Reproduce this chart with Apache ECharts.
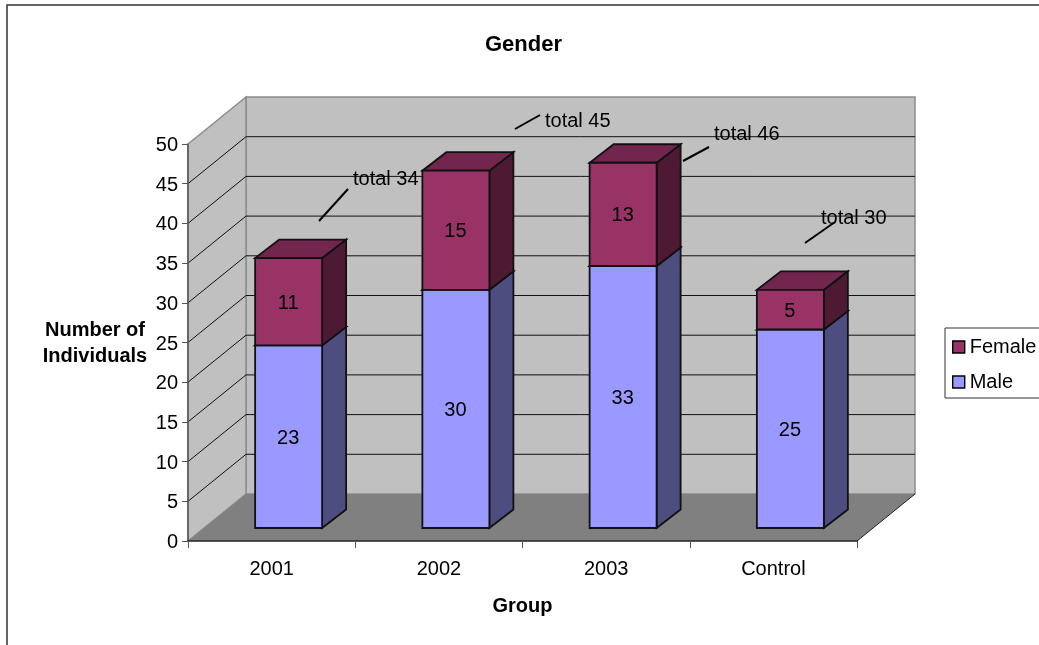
<!DOCTYPE html>
<html>
<head>
<meta charset="utf-8">
<style>html,body{margin:0;padding:0;background:#fff;overflow:hidden}#c{width:1039px;height:645px}</style>
<script src="https://cdn.jsdelivr.net/npm/echarts@6/dist/echarts.min.js"></script>
</head>
<body>
<div id="c"></div>
<script>
const categories = ['2001', '2002', '2003', 'Control'];
const maleValues = [23, 30, 33, 25];
const femaleValues = [11, 15, 13, 5];
const totalValues = [34, 45, 46, 30];
const yTicks = [5, 10, 15, 20, 25, 30, 35, 40, 45];

const FONT = '"Liberation Sans", Arial, sans-serif';
const FS = 20;
const WALL = [58, -47];
const BAR_SHIFT = [17, -13];
const BAR_W = 67;
const BAR_D = [24, -18.5];
const notes = [
  { line: [319, 221, 348, 189], text: [353, 179] },
  { line: [515, 129, 540, 115], text: [545, 121] },
  { line: [683, 161, 709, 147], text: [714, 134] },
  { line: [805, 243, 835, 222], text: [821, 218] }
];

function poly(points, fill, stroke, w) {
  return { type: 'polygon', shape: { points }, style: { fill, stroke: stroke || 'none', lineWidth: w || 0 } };
}

function renderWalls(params, api) {
  const cs = params.coordSys;
  const L = cs.x, R = cs.x + cs.width;
  const y0 = api.coord([0, 0])[1], yT = api.coord([0, 50])[1];
  const [dx, dy] = WALL;
  const children = [
    poly([[L + dx, yT + dy], [R + dx, yT + dy], [R + dx, y0 + dy], [L + dx, y0 + dy]], '#C0C0C0', '#8c8c8c', 1.5),
    poly([[L, yT], [L + dx, yT + dy], [L + dx, y0 + dy], [L, y0]], '#C0C0C0', '#8c8c8c', 1.5),
    poly([[L, y0], [L + dx, y0 + dy], [R + dx, y0 + dy], [R, y0]], '#808080', 'none', 0),
    { type: 'line', shape: { x1: R, y1: y0, x2: R + dx, y2: y0 + dy }, style: { stroke: '#222', lineWidth: 1 } }
  ];
  yTicks.forEach(v => {
    const y = api.coord([0, v])[1];
    children.push({ type: 'polyline', shape: { points: [[L, y], [L + dx, y + dy], [R + dx, y + dy]] },
      style: { fill: 'none', stroke: '#111', lineWidth: 1 } });
  });
  return { type: 'group', children };
}

function barRenderer(front, top, side) {
  return function (params, api) {
    const idx = api.value(0), from = api.value(1), to = api.value(2);
    const cx = api.coord([idx, 0])[0];
    const x0 = cx - BAR_W / 2 + BAR_SHIFT[0], x1 = x0 + BAR_W;
    const yb = api.coord([idx, from])[1] + BAR_SHIFT[1];
    const yt = api.coord([idx, to])[1] + BAR_SHIFT[1];
    const [dx, dy] = BAR_D;
    return { type: 'group', children: [
      poly([[x1, yb], [x1 + dx, yb + dy], [x1 + dx, yt + dy], [x1, yt]], side, '#111', 1.8),
      poly([[x0, yt], [x1, yt], [x1 + dx, yt + dy], [x0 + dx, yt + dy]], top, '#111', 1.8),
      poly([[x0, yb], [x1, yb], [x1, yt], [x0, yt]], front, '#111', 1.8),
      { type: 'text', style: { x: (x0 + x1) / 2 - 0.5, y: (yb + yt) / 2 + 1.5, text: String(to - from),
        fill: '#000', font: FS + 'px ' + FONT, textAlign: 'center', textVerticalAlign: 'middle' } }
    ] };
  };
}

const graphicNotes = [{ type: 'rect', shape: { x: 7, y: 5, width: 1200, height: 800 },
  style: { fill: 'none', stroke: '#333', lineWidth: 1.5 }, z: 0 }];
notes.forEach((n, i) => {
  graphicNotes.push({ type: 'text', x: n.text[0], y: n.text[1], z: 20,
    style: { text: 'total ' + totalValues[i], fill: '#000', font: FS + 'px ' + FONT, textAlign: 'left', textVerticalAlign: 'middle' } });
  graphicNotes.push({ type: 'line', z: 21, shape: { x1: n.line[0], y1: n.line[1], x2: n.line[2], y2: n.line[3] },
    style: { stroke: '#000', lineWidth: 2 } });
});

const boldName = { fontFamily: FONT, fontSize: 20, fontWeight: 'bold', color: '#000', lineHeight: 28 };

const chart = echarts.init(document.getElementById('c'), null, { renderer: 'canvas' });
chart.setOption({
  animation: false,
  backgroundColor: '#fff',
  title: { text: 'Gender', left: 480, top: 29, padding: 5,
    textStyle: { fontFamily: FONT, fontSize: 22, fontWeight: 'bold', color: '#000' } },
  grid: { left: 188, top: 144, width: 669, height: 397, containLabel: false },
  legend: {
    left: 945, top: 328, orient: 'vertical', padding: [9, 20, 6, 7], itemGap: 15, itemWidth: 12, itemHeight: 12,
    backgroundColor: '#fff', borderColor: '#333', borderWidth: 1, borderRadius: 0,
    textStyle: { fontFamily: FONT, fontSize: FS, color: '#000' },
    data: [
      { name: 'Female', icon: 'rect', itemStyle: { color: '#993366', borderColor: '#000', borderWidth: 1.4 } },
      { name: 'Male', icon: 'rect', itemStyle: { color: '#9999FF', borderColor: '#000', borderWidth: 1.4 } }
    ]
  },
  xAxis: {
    type: 'category', data: categories, boundaryGap: true, z: 5,
    name: 'Group', nameLocation: 'middle', nameGap: 55,
    nameTextStyle: { fontFamily: FONT, fontSize: 20, fontWeight: 'bold', color: '#000' },
    axisLine: { lineStyle: { color: '#222', width: 1.5 } },
    axisTick: { show: true, length: 7, lineStyle: { color: '#555' } },
    axisLabel: { fontFamily: FONT, fontSize: FS, color: '#000', margin: 18 },
    splitLine: { show: false }
  },
  yAxis: {
    type: 'value', min: 0, max: 50, interval: 5, z: 5,
    name: '{first|Number of}\n{next|Individuals}', nameLocation: 'middle', nameGap: 93, nameRotate: 0,
    nameTextStyle: { align: 'center', verticalAlign: 'middle',
      rich: { first: Object.assign({ padding: [4, 0, 0, 0] }, boldName), next: boldName } },
    axisLine: { show: true, lineStyle: { color: '#555', width: 1.5 } },
    axisTick: { show: true, length: 6, lineStyle: { color: '#555' } },
    axisLabel: { margin: 10, formatter: v => '{t|' + v + '}',
      rich: { t: { fontFamily: FONT, fontSize: FS, color: '#000', padding: [3, 0, 0, 0] } } },
    splitLine: { show: false }
  },
  graphic: graphicNotes,
  series: [
    { type: 'custom', name: 'walls', z: 1, silent: true, renderItem: renderWalls, data: [[0, 0]], encode: { x: 0, y: 1 } },
    { type: 'custom', name: 'Male', z: 3, itemStyle: { color: '#9999FF' },
      renderItem: barRenderer('#9999FF', '#7373BF', '#4D4D80'),
      encode: { x: 0, y: [1, 2] },
      data: maleValues.map((v, i) => [i, 0, v]) },
    { type: 'custom', name: 'Female', z: 4, itemStyle: { color: '#993366' },
      renderItem: barRenderer('#993366', '#73264D', '#4D1933'),
      encode: { x: 0, y: [1, 2] },
      data: femaleValues.map((v, i) => [i, maleValues[i], maleValues[i] + v]) }
  ]
});
</script>
</body>
</html>
